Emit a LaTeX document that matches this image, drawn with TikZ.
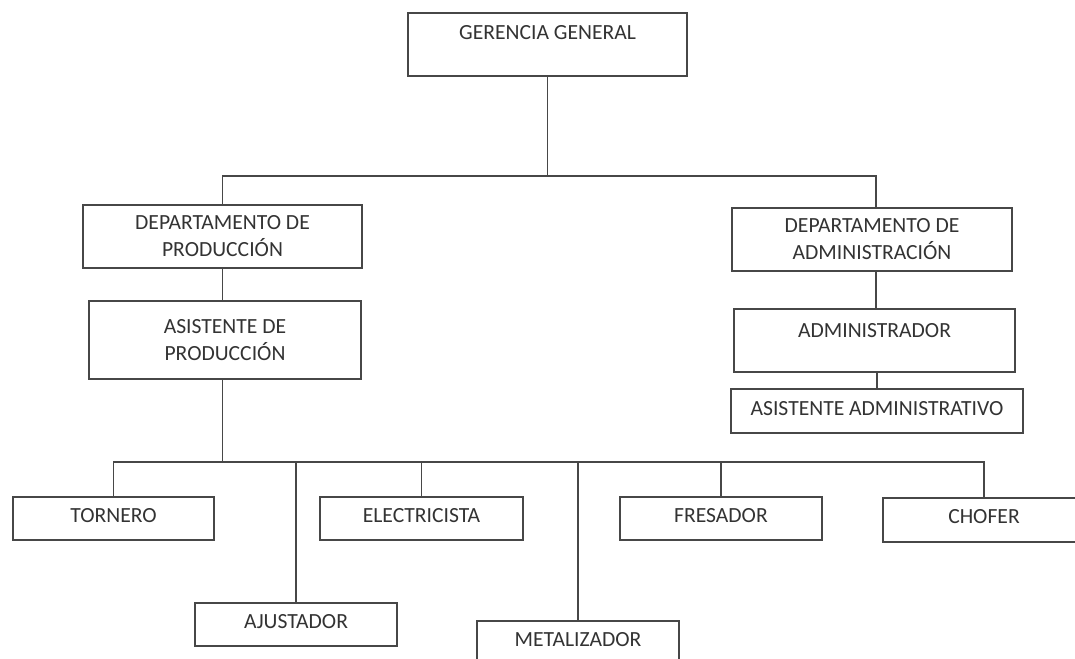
\documentclass[tikz,border=0pt]{standalone}
\usepackage{fontspec}
\setmainfont{Carlito}
\tikzset{
  box/.style={draw=black!72, line width=0.8pt, rectangle, inner sep=0pt, outer sep=0pt,
    text=black!80, align=center, font=\fontsize{10.8}{13.5}\selectfont},
  lift/.style={text height=7pt, text depth=#1},
  link/.style={draw=black!72, line width=0.8pt}
}
\begin{document}
\begin{tikzpicture}[x=0.5pt,y=-0.5pt]
\clip (0,0) rectangle (1075,658);
\fill[white] (0,0) rectangle (1075,658);

% Top level
\node[box, lift=11.5pt, minimum width=139.5pt, minimum height=31.5pt] (gg) at (547.5,44.5) {GERENCIA GENERAL};

% Left column
\node[box, minimum width=139.5pt, minimum height=31.5pt] (dp) at (222.5,236.5) {DEPARTAMENTO DE\\PRODUCCIÓN};
\node[box, minimum width=136pt, minimum height=39pt] (ap) at (225,340) {ASISTENTE DE\\PRODUCCIÓN};

% Right column
\node[box, minimum width=140pt, minimum height=31.5pt] (da) at (872,239.5) {DEPARTAMENTO DE\\ADMINISTRACIÓN};
\node[box, lift=10.5pt, minimum width=140.5pt, minimum height=31.5pt] (adm) at (874.5,340.5) {ADMINISTRADOR};
\node[box, lift=3pt, minimum width=146pt, minimum height=22pt] (aa) at (877,411) {ASISTENTE ADMINISTRATIVO};

% Bottom row
\node[box, lift=3.5pt, minimum width=100.5pt, minimum height=21.5pt] (tor) at (113.5,518.5) {TORNERO};
\node[box, lift=3.5pt, minimum width=101pt, minimum height=21.5pt] (aj) at (296,624.5) {AJUSTADOR};
\node[box, lift=3.5pt, minimum width=101.5pt, minimum height=21.5pt] (ele) at (421.5,518.5) {ELECTRICISTA};
\node[box, lift=3.5pt, minimum width=101pt, minimum height=21.5pt] (met) at (578,642.5) {METALIZADOR};
\node[box, lift=3.5pt, minimum width=101pt, minimum height=21.5pt] (fre) at (721,518.5) {FRESADOR};
\node[box, lift=3.5pt, minimum width=101pt, minimum height=22pt] (cho) at (984,520) {CHOFER};

% Upper connectors
\coordinate (tw) at (222.5,176);
\coordinate (te) at (876,176);
\draw[link] (gg.south) -- (gg.south |- tw);
\draw[link] (dp.north) |- (te) -- (te |- da.north);
\draw[link] (dp.south) -- (dp.south |- ap.north);
\draw[link] (da.south -| te) -- (te |- adm.north);
\draw[link] (aa.north) -- (aa.north |- adm.south);

% Lower connectors
\coordinate (bw) at (113.5,462);
\coordinate (be) at (984,462);
\draw[link] (ap.south -| tw) -- (tw |- bw);
\draw[link] (tor.north) |- (be) -- (cho.north);
\foreach \n in {aj,ele,met,fre}
  \draw[link] (\n.north) -- (\n.north |- bw);
\end{tikzpicture}
\end{document}
